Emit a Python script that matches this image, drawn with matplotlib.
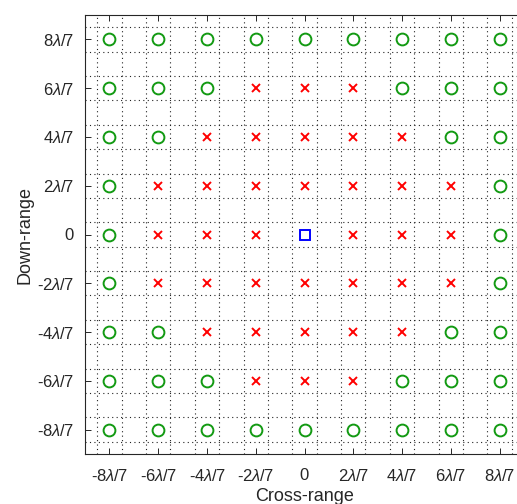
import matplotlib
matplotlib.use("Agg")
import matplotlib.pyplot as plt
import numpy as np

plt.rcParams['font.family'] = ['Liberation Sans', 'DejaVu Sans']
plt.rcParams['mathtext.fontset'] = 'custom'
plt.rcParams['mathtext.rm'] = 'Liberation Sans'
plt.rcParams['mathtext.it'] = 'Liberation Sans:italic'

# Positions in units of lambda/7
tick_values = [-8, -6, -4, -2, 0, 2, 4, 6, 8]
tick_labels = ['-8$\\mathit{\\lambda}$/7', '-6$\\mathit{\\lambda}$/7', '-4$\\mathit{\\lambda}$/7',
               '-2$\\mathit{\\lambda}$/7', '0', '2$\\mathit{\\lambda}$/7', '4$\\mathit{\\lambda}$/7',
               '6$\\mathit{\\lambda}$/7', '8$\\mathit{\\lambda}$/7']
grid_lines = [-8.5, -7.5, -6.5, -5.5, -4.5, -3.5, -2.5, -1.5, -0.5,
              0.5, 1.5, 2.5, 3.5, 4.5, 5.5, 6.5, 7.5, 8.5]

# Active elements (red crosses)
active_x = [-2, 0, 2,
            -4, -2, 0, 2, 4,
            -6, -4, -2, 0, 2, 4, 6,
            -6, -4, -2, 2, 4, 6,
            -6, -4, -2, 0, 2, 4, 6,
            -4, -2, 0, 2, 4,
            -2, 0, 2]
active_y = [6, 6, 6,
            4, 4, 4, 4, 4,
            2, 2, 2, 2, 2, 2, 2,
            0, 0, 0, 0, 0, 0,
            -2, -2, -2, -2, -2, -2, -2,
            -4, -4, -4, -4, -4,
            -6, -6, -6]

# Inactive elements (green circles)
idle_x = [-8, -6, -4, -2, 0, 2, 4, 6, 8,
          -8, -6, -4, 4, 6, 8,
          -8, -6, 6, 8,
          -8, 8,
          -8, 8,
          -8, 8,
          -8, -6, 6, 8,
          -8, -6, -4, 4, 6, 8,
          -8, -6, -4, -2, 0, 2, 4, 6, 8]
idle_y = [8, 8, 8, 8, 8, 8, 8, 8, 8,
          6, 6, 6, 6, 6, 6,
          4, 4, 4, 4,
          2, 2,
          0, 0,
          -2, -2,
          -4, -4, -4, -4,
          -6, -6, -6, -6, -6, -6,
          -8, -8, -8, -8, -8, -8, -8, -8, -8]

# Reference element (blue square)
ref_x = [0]
ref_y = [0]

fig = plt.figure(figsize=(5.17, 5.04), dpi=100)
ax = fig.add_axes([85 / 517, 50 / 504, 439 / 517, 439 / 504])

ax.plot(idle_x, idle_y, linestyle='none', marker='o', markersize=8.5,
        markerfacecolor='none', markeredgecolor='#129a12', markeredgewidth=1.4)
ax.plot(active_x, active_y, linestyle='none', marker='x', markersize=5.5,
        color='#ff0000', markeredgewidth=1.4)
ax.plot(ref_x, ref_y, linestyle='none', marker='s', markersize=7.5,
        markerfacecolor='none', markeredgecolor='#0000ff', markeredgewidth=1.4)

ax.set_xlim(-9, 9)
ax.set_ylim(-9, 9)
ax.set_xticks(tick_values)
ax.set_xticklabels(tick_labels)
ax.set_yticks(tick_values)
ax.set_yticklabels(tick_labels)
ax.set_xticks(grid_lines, minor=True)
ax.set_yticks(grid_lines, minor=True)

ax.grid(which='minor', linestyle=(0, (1, 3)), color='#222222', linewidth=0.8)
ax.grid(which='major', visible=False)

ax.tick_params(which='major', direction='in', top=True, right=True,
               length=4, width=0.7, color='#262626', labelsize=12,
               labelcolor='#262626')
ax.tick_params(axis='x', which='major', pad=10)
ax.tick_params(axis='y', which='major', pad=8)
ax.tick_params(which='minor', length=0)

for s in ax.spines.values():
    s.set_color('#262626')
    s.set_linewidth(0.8)

ax.set_xlabel('Cross-range', fontsize=13, color='#262626', labelpad=3)
ax.set_ylabel('Down-range', fontsize=13, color='#262626', labelpad=3)

fig.savefig('out.png', dpi=100)
